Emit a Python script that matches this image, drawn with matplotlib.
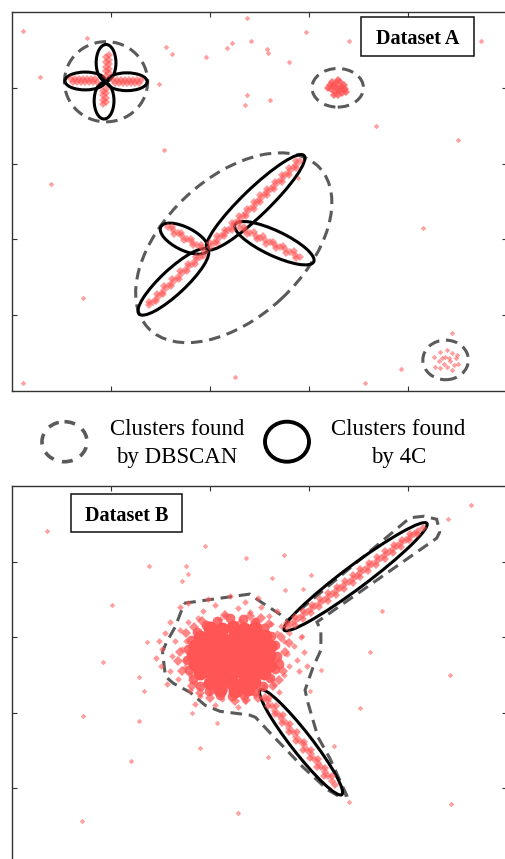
import matplotlib
matplotlib.use('Agg')
import matplotlib.pyplot as plt
from matplotlib.patches import Ellipse, Polygon, Rectangle
from matplotlib.transforms import Affine2D

# ---------------- Dataset A ----------------
# scattered noise points
a_noise = [(0.11, 4.75), (0.76, 4.66), (2.37, 4.92), (2.97, 4.73), (3.40, 4.62),
           (4.74, 4.62), (1.56, 4.54), (1.62, 4.45), (2.22, 4.59), (2.17, 4.52),
           (2.41, 4.62), (2.58, 4.51), (2.59, 4.46), (1.96, 4.40), (2.80, 4.34),
           (0.28, 4.14), (1.48, 4.05), (2.37, 3.91), (2.35, 3.77), (2.61, 3.84),
           (3.68, 3.50), (4.50, 3.31), (1.54, 3.18), (0.39, 2.73), (4.15, 2.15),
           (0.72, 1.23), (4.44, 0.77), (3.93, 0.29), (2.25, 0.18), (3.57, 0.11),
           (0.11, 0.11), (2.89, 2.81)]

# clover cluster (four short lines)
a_clover = [(0.60, 4.11), (0.64, 4.11), (0.68, 4.11), (0.72, 4.11), (0.76, 4.11), (0.80, 4.11), (0.84, 4.11),
            (0.62, 4.07), (0.66, 4.07), (0.70, 4.07), (0.74, 4.07), (0.78, 4.07), (0.82, 4.07), (0.86, 4.07),
            (1.02, 4.10), (1.06, 4.10), (1.10, 4.10), (1.14, 4.10), (1.18, 4.10), (1.22, 4.10), (1.26, 4.10), (1.30, 4.10),
            (1.04, 4.06), (1.08, 4.06), (1.12, 4.06), (1.16, 4.06), (1.20, 4.06), (1.24, 4.06), (1.28, 4.06),
            (0.95, 4.16), (0.95, 4.22), (0.95, 4.28), (0.95, 4.34), (0.95, 4.40),
            (0.98, 4.19), (0.98, 4.25), (0.98, 4.31), (0.98, 4.37), (0.98, 4.43),
            (0.92, 3.78), (0.92, 3.84), (0.92, 3.90), (0.92, 3.96),
            (0.95, 3.81), (0.95, 3.87), (0.95, 3.93), (0.95, 3.99)]

# compact blob, top right
a_blob1 = [(3.28, 4.00), (3.24, 4.02), (3.32, 4.01), (3.26, 3.95), (3.30, 3.96), (3.22, 3.98),
           (3.34, 3.98), (3.27, 4.06), (3.31, 4.07), (3.35, 4.04), (3.21, 4.04), (3.25, 3.91),
           (3.29, 3.90), (3.33, 3.93), (3.36, 3.99), (3.19, 4.00), (3.23, 4.08), (3.29, 4.10),
           (3.37, 3.95), (3.26, 4.03), (3.31, 3.99)]

# loose blob, bottom right
a_blob2 = [(4.26, 0.45), (4.32, 0.52), (4.39, 0.54), (4.44, 0.50), (4.37, 0.45), (4.31, 0.39),
           (4.36, 0.36), (4.42, 0.39), (4.48, 0.43), (4.51, 0.36), (4.39, 0.32), (4.32, 0.30),
           (4.44, 0.28), (4.27, 0.32), (4.46, 0.34), (4.41, 0.43), (4.34, 0.43), (4.49, 0.48)]

# star shaped cluster: long line, lower line, small left line, right line
a_long = [(2.00, 1.90), (2.04, 1.95), (2.07, 1.99), (2.11, 2.04), (2.15, 2.08), (2.18, 2.13),
          (2.22, 2.17), (2.25, 2.22), (2.29, 2.26), (2.33, 2.31), (2.36, 2.35), (2.40, 2.40),
          (2.44, 2.44), (2.47, 2.49), (2.51, 2.53), (2.55, 2.58), (2.58, 2.62), (2.62, 2.67),
          (2.65, 2.71), (2.69, 2.76), (2.73, 2.80), (2.76, 2.85), (2.80, 2.89), (2.84, 2.94),
          (2.87, 2.98), (2.91, 3.03),
          (2.00, 1.95), (2.07, 1.95), (2.07, 2.04), (2.14, 2.04), (2.15, 2.13), (2.22, 2.13),
          (2.22, 2.22), (2.29, 2.22), (2.29, 2.31), (2.36, 2.31), (2.37, 2.40), (2.44, 2.40),
          (2.44, 2.49), (2.51, 2.49), (2.51, 2.58), (2.58, 2.58), (2.58, 2.67), (2.65, 2.67),
          (2.66, 2.76), (2.73, 2.76), (2.73, 2.85), (2.80, 2.85), (2.80, 2.94), (2.87, 2.94),
          (2.87, 3.03)]
a_lower = [(1.38, 1.13), (1.42, 1.18), (1.46, 1.23), (1.50, 1.28), (1.54, 1.33), (1.58, 1.38),
           (1.62, 1.43), (1.66, 1.48), (1.70, 1.53), (1.74, 1.58), (1.78, 1.63), (1.82, 1.68),
           (1.86, 1.73), (1.90, 1.77), (1.95, 1.84),
           (1.38, 1.18), (1.45, 1.19), (1.46, 1.28), (1.53, 1.28), (1.54, 1.38), (1.61, 1.38),
           (1.62, 1.48), (1.69, 1.48), (1.70, 1.58), (1.77, 1.58), (1.78, 1.68), (1.85, 1.68),
           (1.86, 1.77), (1.93, 1.78)]
a_small = [(1.58, 2.16), (1.63, 2.12), (1.68, 2.08), (1.72, 2.04), (1.77, 2.00), (1.82, 1.96),
           (1.87, 1.92), (1.92, 1.88),
           (1.62, 2.17), (1.64, 2.07), (1.71, 2.09), (1.74, 1.99), (1.81, 2.01), (1.83, 1.92),
           (1.91, 1.93)]
a_right = [(2.30, 2.15), (2.35, 2.12), (2.40, 2.08), (2.46, 2.05), (2.51, 2.02), (2.56, 1.99),
           (2.61, 1.96), (2.66, 1.93), (2.71, 1.90), (2.76, 1.87), (2.81, 1.83), (2.86, 1.80),
           (2.91, 1.77),
           (2.34, 2.16), (2.37, 2.07), (2.44, 2.10), (2.47, 2.01), (2.54, 2.04), (2.57, 1.94),
           (2.64, 1.97), (2.67, 1.88), (2.74, 1.91), (2.77, 1.82), (2.85, 1.85), (2.87, 1.76)]

# clusters found: (cx, cy, width, height, angle), sizes in x units
a_dbscan = [(0.95, 4.08, 0.84, 0.81, 0), (3.29, 4.00, 0.52, 0.39, 0),
            (4.38, 0.41, 0.46, 0.40, 0), (2.24, 1.89, 2.37, 1.41, 43)]
a_4c = [(0.74, 4.09, 0.41, 0.18, 0), (1.16, 4.08, 0.41, 0.18, 0),
        (0.95, 4.33, 0.20, 0.37, 0), (0.93, 3.83, 0.20, 0.37, 0),
        (2.46, 2.49, 1.36, 0.27, 44), (1.63, 1.44, 0.95, 0.25, 43),
        (1.74, 2.01, 0.53, 0.23, -26.5), (2.65, 1.95, 0.88, 0.25, -25.3)]

# ---------------- Dataset B ----------------
b_noise = [(0.35, 4.41), (1.95, 4.21), (2.36, 4.05), (2.75, 4.09), (1.38, 3.94), (1.76, 3.94),
           (1.78, 3.83), (1.72, 3.75), (1.01, 3.42), (3.02, 3.82), (2.63, 3.78), (4.40, 4.56),
           (4.64, 4.75), (3.74, 3.34), (3.62, 2.80), (4.42, 2.50), (0.92, 2.67), (0.72, 1.96),
           (1.28, 1.89), (3.52, 2.06), (1.90, 1.54), (1.20, 1.36), (2.59, 1.41), (3.25, 1.56),
           (3.40, 0.82), (4.43, 0.79), (2.28, 0.68), (0.71, 0.57), (2.07, 1.87), (1.82, 2.00),
           (1.36, 2.94), (1.33, 2.29), (1.28, 2.47), (2.94, 3.64), (2.76, 3.62), (3.12, 2.56),
           (3.01, 2.29), (2.93, 3.02)]

# dense gaussian core
b_core = [(2.00, 3.12), (2.12, 3.11), (2.23, 3.13), (2.34, 3.11), (2.45, 3.12),
          (1.90, 3.00), (2.01, 3.01), (2.12, 2.99), (2.24, 3.00), (2.35, 3.02), (2.46, 2.99), (2.56, 3.01),
          (1.85, 2.88), (1.96, 2.89), (2.07, 2.87), (2.18, 2.88), (2.29, 2.89), (2.40, 2.87), (2.51, 2.88), (2.61, 2.89),
          (1.83, 2.76), (1.94, 2.77), (2.05, 2.75), (2.16, 2.76), (2.27, 2.77), (2.38, 2.75), (2.49, 2.76), (2.60, 2.77),
          (1.85, 2.64), (1.96, 2.63), (2.07, 2.65), (2.18, 2.64), (2.29, 2.63), (2.40, 2.65), (2.51, 2.64), (2.61, 2.63),
          (1.90, 2.52), (2.01, 2.53), (2.12, 2.51), (2.23, 2.52), (2.34, 2.53), (2.45, 2.51), (2.55, 2.52),
          (2.00, 2.40), (2.11, 2.41), (2.22, 2.39), (2.33, 2.40), (2.44, 2.41),
          (2.10, 2.30), (2.25, 2.29), (2.38, 2.31)]
# fuzzy rim of the core
b_rim = [(2.68, 2.75), (2.66, 2.90), (2.62, 3.02), (2.55, 3.12), (2.45, 3.20), (2.33, 3.24),
         (2.20, 3.25), (2.07, 3.22), (1.96, 3.16), (1.87, 3.07), (1.81, 2.96), (1.78, 2.84),
         (1.77, 2.70), (1.79, 2.57), (1.83, 2.45), (1.90, 2.36), (1.99, 2.29), (2.10, 2.24),
         (2.22, 2.22), (2.34, 2.24), (2.45, 2.29), (2.54, 2.36), (2.61, 2.46), (2.66, 2.58),
         (2.70, 2.65)]
b_rim2 = [(2.76, 2.80), (2.72, 3.00), (2.60, 3.18), (2.40, 3.28), (2.15, 3.30), (1.92, 3.22),
          (1.76, 3.05), (1.70, 2.80), (1.72, 2.55), (1.82, 2.35), (2.00, 2.20), (2.25, 2.15),
          (2.48, 2.20), (2.64, 2.35), (2.74, 2.55), (2.80, 2.92), (2.52, 3.26), (1.84, 3.14),
          (1.68, 2.68), (1.90, 2.26), (2.36, 2.17), (2.70, 2.44)]
# sparser halo around the core
b_halo = [(1.70, 3.40), (1.78, 3.45), (1.93, 3.35), (2.05, 3.42), (2.15, 3.30), (2.28, 3.38),
          (2.40, 3.33), (2.52, 3.40), (2.60, 3.28), (2.68, 3.35), (2.35, 3.47), (1.98, 3.50),
          (2.20, 3.55), (2.48, 3.52),
          (1.60, 3.20), (1.55, 3.05), (1.65, 2.95), (1.52, 2.85), (1.62, 2.75), (1.50, 2.62),
          (1.60, 2.55), (1.68, 2.45), (1.57, 2.38), (1.70, 3.10), (1.72, 2.85), (1.75, 2.60),
          (1.45, 2.72), (1.48, 2.95),
          (1.80, 2.30), (1.90, 2.22), (2.00, 2.28), (2.12, 2.18), (2.22, 2.25), (2.35, 2.15),
          (2.45, 2.24), (2.55, 2.18), (1.85, 2.12), (2.05, 2.10), (2.28, 2.08), (1.95, 2.38),
          (2.15, 2.32), (2.40, 2.30),
          (2.72, 3.15), (2.80, 3.05), (2.75, 2.95), (2.85, 2.88), (2.78, 2.78), (2.88, 2.70),
          (2.80, 2.62), (2.90, 2.55), (2.75, 2.50), (2.65, 2.38), (2.70, 2.28), (2.95, 2.80),
          (2.92, 3.00), (2.98, 2.62),
          (1.78, 3.20), (1.88, 3.25), (2.30, 3.22), (2.62, 3.18), (2.68, 3.05), (1.75, 2.70),
          (1.80, 2.50), (2.62, 2.45), (2.55, 2.35), (1.85, 2.40), (2.10, 3.24), (2.45, 3.22),
          (2.70, 2.70), (1.76, 2.95)]
b_upper = [(2.78, 3.14), (2.82, 3.17), (2.86, 3.21), (2.90, 3.25), (2.94, 3.29), (2.98, 3.33),
           (3.02, 3.37), (3.06, 3.41), (3.11, 3.45), (3.15, 3.49), (3.19, 3.53), (3.23, 3.57),
           (3.27, 3.61), (3.31, 3.65), (3.35, 3.69), (3.40, 3.73), (3.44, 3.77), (3.48, 3.81),
           (3.52, 3.85), (3.56, 3.89), (3.60, 3.93), (3.64, 3.97), (3.69, 4.01), (3.73, 4.05),
           (3.77, 4.09), (3.81, 4.13), (3.85, 4.17), (3.89, 4.21), (3.93, 4.24), (3.98, 4.28),
           (4.02, 4.32), (4.06, 4.36), (4.10, 4.40), (4.15, 4.45),
           (2.78, 3.19), (2.86, 3.16), (2.86, 3.27), (2.94, 3.24), (2.94, 3.35), (3.02, 3.32),
           (3.03, 3.42), (3.10, 3.40), (3.11, 3.50), (3.19, 3.48), (3.19, 3.58), (3.27, 3.56),
           (3.28, 3.66), (3.35, 3.64), (3.36, 3.74), (3.44, 3.72), (3.44, 3.82), (3.52, 3.80),
           (3.52, 3.90), (3.60, 3.88), (3.61, 3.98), (3.68, 3.96), (3.69, 4.06), (3.77, 4.03),
           (3.77, 4.14), (3.85, 4.11), (3.86, 4.22), (3.93, 4.19), (3.94, 4.29), (4.01, 4.28),
           (4.02, 4.37), (4.09, 4.36)]
b_lower = [(2.56, 2.21), (2.59, 2.15), (2.63, 2.09), (2.66, 2.03), (2.70, 1.97), (2.73, 1.92),
           (2.77, 1.86), (2.80, 1.80), (2.84, 1.74), (2.87, 1.68), (2.91, 1.63), (2.95, 1.57),
           (2.98, 1.51), (3.02, 1.45), (3.05, 1.39), (3.09, 1.34), (3.12, 1.28), (3.16, 1.22),
           (3.19, 1.16), (3.23, 1.10), (3.26, 1.04),
           (2.60, 2.20), (2.59, 2.09), (2.67, 2.09), (2.66, 1.98), (2.74, 1.97), (2.73, 1.86),
           (2.81, 1.85), (2.80, 1.75), (2.88, 1.74), (2.87, 1.63), (2.95, 1.62), (2.94, 1.51),
           (3.02, 1.51), (3.01, 1.40), (3.09, 1.39), (3.08, 1.28), (3.16, 1.27), (3.15, 1.16),
           (3.23, 1.16)]

b_dbscan_x = [1.74, 2.40, 2.51, 2.71, 2.78, 4.02, 4.16, 4.29, 4.32, 4.29, 3.08, 3.12, 3.12,
              3.04, 2.96, 2.99, 3.09, 3.21, 3.38, 3.31, 3.19, 2.94, 2.61, 2.46, 2.40, 2.10,
              1.95, 1.80, 1.63, 1.55, 1.52, 1.56, 1.65]
b_dbscan_y = [3.45, 3.57, 3.47, 3.30, 3.22, 4.58, 4.60, 4.56, 4.39, 4.31, 3.20, 3.09, 2.83,
              2.60, 2.30, 2.13, 1.68, 1.40, 0.91, 0.89, 0.98, 1.28, 1.73, 1.94, 1.97, 2.02,
              2.10, 2.27, 2.39, 2.48, 2.81, 2.93, 3.14]
b_4c = [(3.47, 3.80, 1.80, 0.23, 36.8), (2.92, 1.61, 1.34, 0.21, -52.1)]

# ---------------- figure ----------------
W, H = 506, 859
fig = plt.figure(figsize=(W / 100, H / 100), dpi=100)
serif = ['Liberation Serif', 'DejaVu Serif']

red = '#ff5555'
dash_col = '#5a5a5a'
dash_style = (0, (3.8, 2.2))


def px_axes(left, top, w, h):
    return fig.add_axes([left / W, (H - top - h) / H, w / W, h / H])


def draw_ellipse(ax, k, cx, cy, w, h, ang, **kw):
    e = Ellipse((0, 0), w, h, angle=ang, fill=False, **kw)
    e.set_transform(Affine2D().scale(1, k).translate(cx, cy) + ax.transData)
    ax.add_patch(e)


def pts(ax, data, ms=2.8, alpha=0.6, marker='D'):
    xs = [p[0] for p in data]
    ys = [p[1] for p in data]
    ax.plot(xs, ys, ls='none', marker=marker, ms=ms, mew=0, color=red, alpha=alpha)


def style(ax):
    ax.set_xlim(0, 5)
    ax.set_ylim(0, 5)
    ax.set_xticks([1, 2, 3, 4])
    ax.set_yticks([1, 2, 3, 4])
    ax.tick_params(direction='in', top=True, right=True, length=3.5, width=0.8,
                   colors='#333333', labelbottom=False, labelleft=False)
    for s in ax.spines.values():
        s.set_linewidth(1.0)
        s.set_color('#333333')


# top panel
axA = px_axes(12, 12, 495, 379)
style(axA)
kA = 495 / 379
for grp in [a_noise, a_blob2]:
    pts(axA, grp, alpha=0.55)
for grp in [a_clover, a_long, a_lower, a_small, a_right]:
    pts(axA, grp, ms=3.6, alpha=0.6)
pts(axA, a_blob1, ms=4.5, alpha=0.8)
for c in a_dbscan:
    draw_ellipse(axA, kA, *c, lw=2.2, color=dash_col, ls=dash_style)
for c in a_4c:
    draw_ellipse(axA, kA, *c, lw=2.2, color='black')
axA.add_patch(Rectangle((3.53, 4.42), 1.14, 0.51, fill=True, fc='white', ec='#111111', lw=1.1, zorder=5))
axA.text(4.10, 4.575, 'Dataset A', ha='center', va='baseline', fontsize=14.5,
         fontweight='bold', family=serif, zorder=6)

# bottom panel
axB = px_axes(12, 486, 495, 378)
style(axB)
kB = 495 / 378
pts(axB, b_noise, alpha=0.55)
pts(axB, b_halo, ms=3.4, alpha=0.6)
pts(axB, b_rim2, ms=5.0, alpha=0.7)
pts(axB, b_rim, ms=7.0, alpha=0.85, marker='o')
pts(axB, b_core, ms=10, alpha=1.0, marker='o')
pts(axB, b_upper, ms=3.6, alpha=0.65)
pts(axB, b_lower, ms=3.6, alpha=0.65)
axB.add_patch(Polygon(list(zip(b_dbscan_x, b_dbscan_y)), closed=True, fill=False,
                      lw=2.2, ec=dash_col, ls=dash_style, joinstyle='miter'))
for c in b_4c:
    draw_ellipse(axB, kB, *c, lw=2.2, color='black')
axB.add_patch(Rectangle((0.60, 4.39), 1.12, 0.51, fill=True, fc='white', ec='#111111', lw=1.1, zorder=5))
axB.text(1.16, 4.54, 'Dataset B', ha='center', va='baseline', fontsize=14.5,
         fontweight='bold', family=serif, zorder=6)

# legend strip between panels
axL = px_axes(0, 400, W, 80)
axL.set_xlim(0, W)
axL.set_ylim(80, 0)
axL.axis('off')
axL.add_patch(Ellipse((64.5, 41.7), 45, 40, fill=False, lw=2.6, ec=dash_col, ls=(0, (3.0, 2.4))))
axL.add_patch(Ellipse((287, 41.7), 44, 40, fill=False, lw=2.8, ec='black'))
for x0, lines in [(177, ['Clusters found', 'by DBSCAN']), (398.5, ['Clusters found', 'by 4C'])]:
    axL.text(x0, 35, lines[0], ha='center', va='baseline', fontsize=16.5, family=serif)
    axL.text(x0, 63, lines[1], ha='center', va='baseline', fontsize=16.5, family=serif)

fig.savefig('out.png', dpi=100)
